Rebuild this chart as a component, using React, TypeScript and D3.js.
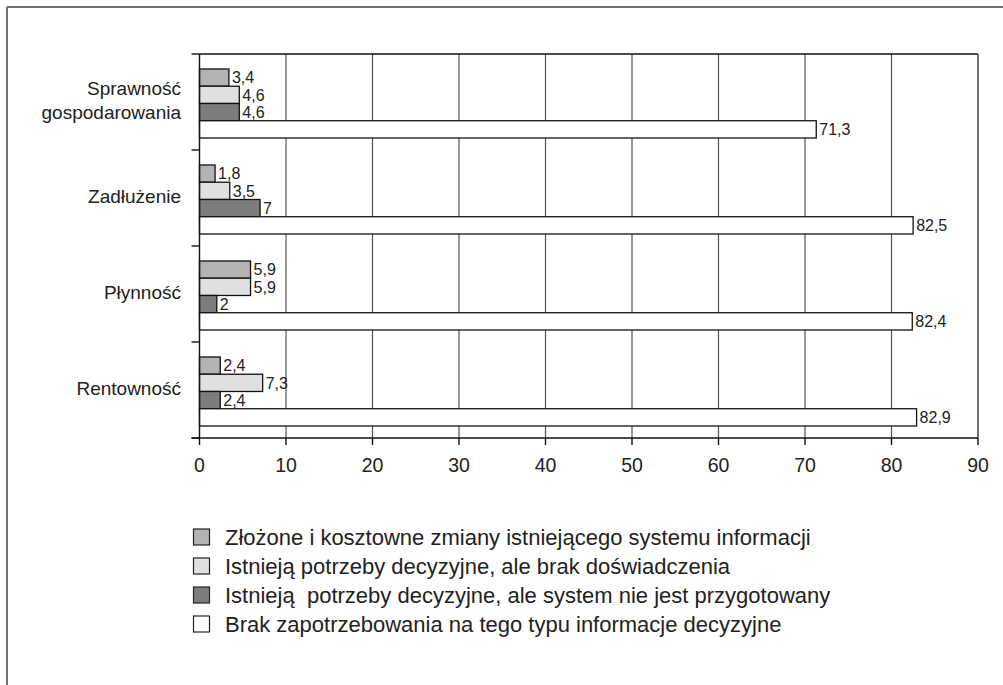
import React from "react";
import * as d3 from "d3";

// Categories (top to bottom) and the four answer series
const categories = ["Sprawność gospodarowania", "Zadłużenie", "Płynność", "Rentowność"];
const categoryLines = [["Sprawność", "gospodarowania"], ["Zadłużenie"], ["Płynność"], ["Rentowność"]];

const seriesNames = [
  "Złożone i kosztowne zmiany istniejącego systemu informacji",
  "Istnieją potrzeby decyzyjne, ale brak doświadczenia",
  "Istnieją  potrzeby decyzyjne, ale system nie jest przygotowany",
  "Brak zapotrzebowania na tego typu informacje decyzyjne",
];

const complexChanges = [3.4, 1.8, 5.9, 2.4];
const lackExperience = [4.6, 3.5, 5.9, 7.3];
const systemNotReady = [4.6, 7, 2, 2.4];
const noDemand = [71.3, 82.5, 82.4, 82.9];

const seriesValues = [complexChanges, lackExperience, systemNotReady, noDemand];
const seriesFills = ["#b3b3b3", "#e0e0e0", "#7d7d7d", "#ffffff"];

const xTicks = [0, 10, 20, 30, 40, 50, 60, 70, 80, 90];

const W = 1003;
const H = 685;
const plot = { left: 199.5, right: 978, top: 54, bottom: 438 };

const fmt = (v: number) => String(v).replace(".", ",");

export default function App() {
  const x = d3.scaleLinear().domain([0, 90]).range([plot.left, plot.right]);
  const y = d3.scaleBand<string>().domain(categories).range([plot.top, plot.bottom]).padding(0);
  const bw = y.bandwidth();
  const inner = d3
    .scaleBand<number>()
    .domain([0, 1, 2, 3])
    .range([bw * 0.156, bw * 0.875])
    .padding(0);

  const font = "'Liberation Sans', Arial, Helvetica, sans-serif";

  return (
    <svg
      width={W}
      height={H}
      style={{ position: "absolute", left: 0, top: 0, background: "#fff" }}
      fontFamily={font}
    >
      {/* outer frame (top and left edges) */}
      <line x1={7} y1={7} x2={W} y2={7} stroke="#707070" strokeWidth={2} />
      <line x1={7} y1={7} x2={7} y2={H} stroke="#707070" strokeWidth={2} />

      {/* vertical gridlines */}
      {xTicks.slice(1, -1).map((t) => (
        <line key={"g" + t} x1={x(t)} x2={x(t)} y1={plot.top} y2={plot.bottom} stroke="#555" strokeWidth={1.2} />
      ))}

      {/* plot border top + right */}
      <line x1={plot.left} x2={plot.right} y1={plot.top} y2={plot.top} stroke="#111" strokeWidth={1.4} />
      <line x1={plot.right} x2={plot.right} y1={plot.top} y2={plot.bottom} stroke="#333" strokeWidth={1.4} />

      {/* bars */}
      {categories.map((c, ci) =>
        seriesValues.map((vals, si) => {
          const v = vals[ci];
          const by = (y(c) as number) + (inner(si) as number);
          const bh = inner.bandwidth();
          return (
            <g key={c + si}>
              <rect
                x={x(0)}
                y={by}
                width={x(v) - x(0)}
                height={bh}
                fill={seriesFills[si]}
                stroke="#111"
                strokeWidth={1.3}
              />
              <text x={x(v) + 3} y={by + bh / 2} dy="0.36em" fontSize={16} fill="#222">
                {fmt(v)}
              </text>
            </g>
          );
        })
      )}

      {/* y axis */}
      <line x1={plot.left} x2={plot.left} y1={plot.top} y2={plot.bottom} stroke="#111" strokeWidth={1.4} />
      {[...categories.map((c) => y(c) as number), plot.bottom].map((yy, i) => (
        <line key={"yt" + i} x1={plot.left - 8} x2={plot.left} y1={yy} y2={yy} stroke="#111" strokeWidth={1.4} />
      ))}
      {categories.map((c, ci) => {
        const lines = categoryLines[ci];
        const cy = (y(c) as number) + bw / 2 - 2;
        const lh = 24;
        return (
          <text key={"cl" + c} x={181} textAnchor="end" fontSize={19} fill="#222">
            {lines.map((l, li) => (
              <tspan key={li} x={181} y={cy + (li - (lines.length - 1) / 2) * lh} dy="0.36em">
                {l}
              </tspan>
            ))}
          </text>
        );
      })}

      {/* x axis */}
      <line x1={plot.left - 8} x2={plot.right} y1={plot.bottom} y2={plot.bottom} stroke="#111" strokeWidth={1.4} />
      {xTicks.map((t) => (
        <g key={"xt" + t}>
          <line x1={x(t)} x2={x(t)} y1={plot.bottom} y2={plot.bottom + 7} stroke="#111" strokeWidth={1.4} />
          <text x={x(t)} y={plot.bottom + 27} dy="0.36em" textAnchor="middle" fontSize={19.5} fill="#222">
            {t}
          </text>
        </g>
      ))}

      {/* legend */}
      {seriesNames.map((name, i) => {
        const ly = 537 + i * 29;
        return (
          <g key={"lg" + i}>
            <rect x={193.5} y={ly - 8} width={16} height={16} fill={seriesFills[i]} stroke="#222" strokeWidth={1.2} />
            <text x={225} y={ly} dy="0.36em" fontSize={22} fill="#222" style={{ whiteSpace: "pre" }}>
              {name}
            </text>
          </g>
        );
      })}
    </svg>
  );
}
